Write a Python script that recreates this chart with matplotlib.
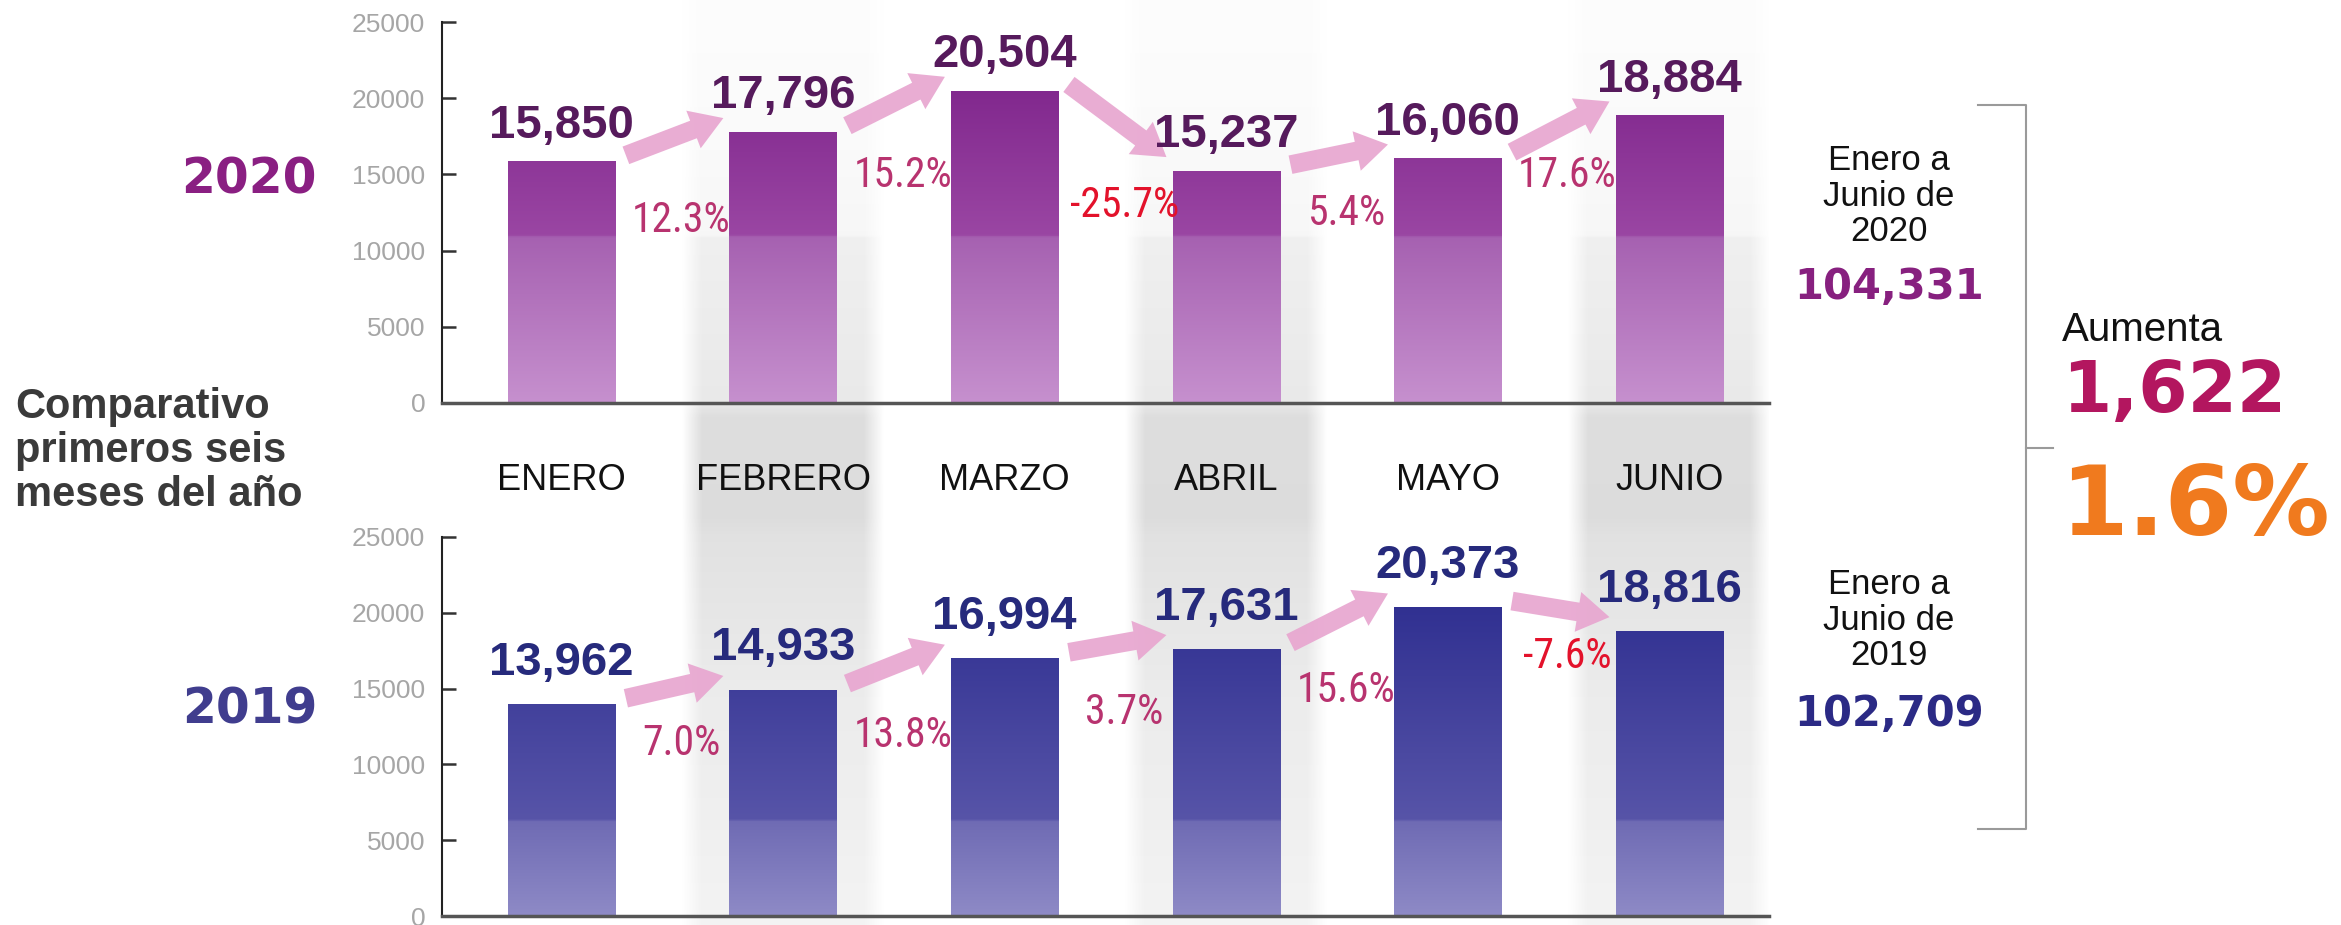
import numpy as np
import matplotlib
matplotlib.use('Agg')
import matplotlib.pyplot as plt
from matplotlib.colors import LinearSegmentedColormap
from matplotlib.patches import FancyArrowPatch
from matplotlib.lines import Line2D
from matplotlib import font_manager as fm

# ---------------- data ----------------
months = ['ENERO', 'FEBRERO', 'MARZO', 'ABRIL', 'MAYO', 'JUNIO']
values_2020 = [15850, 17796, 20504, 15237, 16060, 18884]
values_2019 = [13962, 14933, 16994, 17631, 20373, 18816]
pct_2020 = ['12.3%', '15.2%', '-25.7%', '5.4%', '17.6%']
pct_2019 = ['7.0%', '13.8%', '3.7%', '15.6%', '-7.6%']
total_2020 = 104331
total_2019 = 102709
diff_value = '1,622'
diff_pct = '1.6%'
yticks = [0, 5000, 10000, 15000, 20000, 25000]
shaded_months = [1, 3, 5]

# layout of the percentage labels (data y)
pct_y_2020 = [12000, 14900, 12950, 12450, 14900]
pct_y_2019 = [11400, 11900, 13400, 14850, 17100]

# ---------------- fonts ----------------
_avail = {f.name for f in fm.fontManager.ttflist}
def pick(*names):
    for n in names:
        if n in _avail:
            return n
    return 'DejaVu Sans'
SANS = pick('Liberation Sans', 'Arimo', 'DejaVu Sans')
NARROW = pick('Liberation Sans Narrow', 'Roboto Condensed', SANS)
WIDE = 'DejaVu Sans'
pct_size = 30 if NARROW != SANS else 26

W, H = 2341, 925
def fx(p): return p / W
def fy(p): return 1 - p / H

fig = plt.figure(figsize=(W / 100, H / 100), dpi=100)
fig.patch.set_facecolor('white')

AX_L, AX_R = 442, 1769
XL = (-0.54, 5.45)
top_box = [fx(AX_L), fy(403), (AX_R - AX_L) / W, (403 - 22) / H]
bot_box = [fx(AX_L), fy(916), (AX_R - AX_L) / W, (916 - 537) / H]

# ---------------- background shaded columns ----------------
bg = fig.add_axes([fx(AX_L), 0, (AX_R - AX_L) / W, 1])
bg.set_zorder(0)
bg.axis('off')
fs = [0.0, 0.111, 0.25, 0.4195, 0.44, 0.55, 0.5643, 0.744, 0.746, 0.85, 1.0]
gs = [0.955, 0.94, 0.925, 0.885, 0.865, 0.87, 0.915, 0.94, 0.968, 0.982, 0.992]
ny, nx = 500, 80
fv = np.linspace(0, 1, ny)
gray = np.interp(fv, fs, gs)
xs = np.linspace(0, 1, nx)
edge = np.clip(np.minimum(xs, 1 - xs) / 0.10, 0, 1)
img = np.ones((ny, nx, 4))
img[..., 0] = gray[:, None]
img[..., 1] = gray[:, None]
img[..., 2] = gray[:, None]
img[..., 3] = edge[None, :]
for i in shaded_months:
    bg.imshow(img, extent=[i - 0.46, i + 0.46, 0, 1], origin='lower',
              aspect='auto', interpolation='bilinear')
bg.set_xlim(*XL)
bg.set_ylim(0, 1)

# ---------------- panels ----------------
def gradient_bars(ax, bars, stops):
    cmap = LinearSegmentedColormap.from_list('g', stops)
    grad = np.linspace(0, 1, 512).reshape(-1, 1)
    for b in bars:
        x, w = b.get_x(), b.get_width()
        im = ax.imshow(grad, extent=[x, x + w, 0, 25000], origin='lower',
                       aspect='auto', cmap=cmap, zorder=2, interpolation='bilinear')
        im.set_clip_path(b)
        b.set_facecolor('none')
        b.set_edgecolor('none')

def panel(box, vals, pcts, pct_y, stops, lab_color, lab_off, show_months):
    ax = fig.add_axes(box)
    ax.set_zorder(1)
    ax.patch.set_alpha(0)
    x = np.arange(len(vals))
    bars = ax.bar(x, vals, width=0.485, zorder=2)
    gradient_bars(ax, bars, stops)
    for i, v in enumerate(vals):
        ax.annotate(f'{v:,}', (i, v), xytext=(0, lab_off), textcoords='offset points',
                    ha='center', va='baseline', fontsize=34, fontweight='bold',
                    family=SANS, color=lab_color, zorder=6)
    for i in range(len(vals) - 1):
        arr = FancyArrowPatch((i + 0.29, vals[i] + 400), (i + 0.73, vals[i + 1] + 900),
                              arrowstyle='simple,head_length=2.3,head_width=2.9,tail_width=1.35',
                              mutation_scale=10, color='#E8A6D0', lw=0, alpha=0.92,
                              zorder=4, shrinkA=0, shrinkB=0)
        ax.add_patch(arr)
        c = '#E3122B' if pcts[i].startswith('-') else '#B8336F'
        ax.text(i + 0.54, pct_y[i], pcts[i], ha='center', va='center',
                fontsize=pct_size, family=NARROW, color=c, zorder=6)
    ax.set_xlim(*XL)
    ax.set_ylim(0, 25000)
    ax.set_yticks(yticks)
    ax.set_yticklabels([str(t) for t in yticks])
    ax.tick_params(axis='y', direction='in', length=10, width=1.8, color='#333333',
                   labelsize=19, labelcolor='#A6A6A6', pad=12)
    for lab in ax.get_yticklabels():
        lab.set_family(SANS)
    if show_months:
        ax.set_xticks(x)
        ax.set_xticklabels(months, fontsize=26, family=SANS, color='#111111')
        ax.tick_params(axis='x', length=0, pad=43)
    else:
        ax.set_xticks([])
    for s in ('top', 'right'):
        ax.spines[s].set_visible(False)
    ax.spines['left'].set_color('#222222')
    ax.spines['left'].set_linewidth(1.5)
    ax.spines['bottom'].set_color('#555555')
    ax.spines['bottom'].set_linewidth(2.5)
    return ax

top_stops = [(0.0, '#C690CE'), (0.434, '#A661B1'), (0.44, '#9A46A3'), (1.0, '#761A84')]
bot_stops = [(0.0, '#8E8AC6'), (0.248, '#6F6BB4'), (0.254, '#5754A8'), (1.0, '#24258A')]

panel(top_box, values_2020, pct_2020, pct_y_2020, top_stops, '#561A5C', 17, True)
panel(bot_box, values_2019, pct_2019, pct_y_2019, bot_stops, '#262A7C', 21, False)

# ---------------- left texts ----------------
fig.text(fx(317), fy(179), '2020', ha='right', va='center', fontsize=35,
         fontweight='bold', family=WIDE, color='#8A1F82')
fig.text(fx(317), fy(709), '2019', ha='right', va='center', fontsize=35,
         fontweight='bold', family=WIDE, color='#403D8E')
fig.text(fx(15), fy(451), 'Comparativo\nprimeros seis\nmeses del año', ha='left',
         va='center', fontsize=30, fontweight='bold', family=SANS, color='#3A3A3A',
         linespacing=1.12)

# ---------------- right texts ----------------
fig.text(fx(1889), fy(196), 'Enero a\nJunio de\n2020', ha='center', va='center',
         fontsize=25, family=SANS, color='#111111', linespacing=1.1)
fig.text(fx(1889), fy(287), f'{total_2020:,}', ha='center', va='center', fontsize=30,
         fontweight='bold', family=WIDE, color='#87207F')
fig.text(fx(1889), fy(620), 'Enero a\nJunio de\n2019', ha='center', va='center',
         fontsize=25, family=SANS, color='#111111', linespacing=1.1)
fig.text(fx(1889), fy(714), f'{total_2019:,}', ha='center', va='center', fontsize=30,
         fontweight='bold', family=WIDE, color='#2B2A85')

fig.add_artist(Line2D([fx(1978), fx(2026), fx(2026), fx(1978)],
                      [fy(105), fy(105), fy(829), fy(829)],
                      color='#9A9A9A', lw=1.5, transform=fig.transFigure))
fig.add_artist(Line2D([fx(2026), fx(2053)], [fy(448), fy(448)],
                      color='#9A9A9A', lw=1.5, transform=fig.transFigure))

fig.text(fx(2062), fy(330), 'Aumenta', ha='left', va='center', fontsize=29,
         family=SANS, color='#111111')
fig.text(fx(2062), fy(393), diff_value, ha='left', va='center', fontsize=51,
         fontweight='bold', family=WIDE, color='#B3165F')
fig.text(fx(2060), fy(508), diff_pct, ha='left', va='center', fontsize=70,
         fontweight='bold', family=WIDE, color='#F07A1E')

fig.savefig('out.png', dpi=100)
